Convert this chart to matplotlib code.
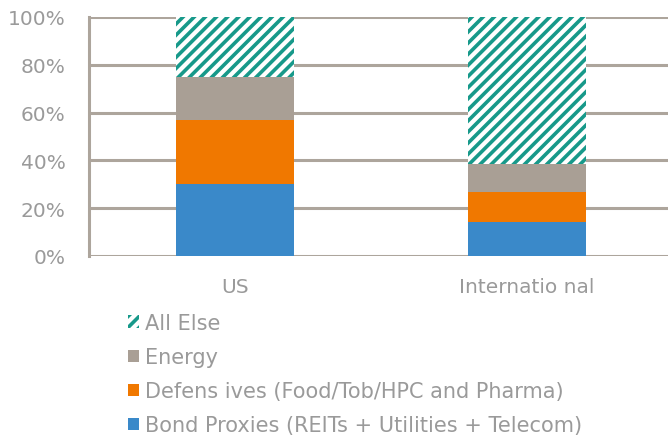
import numpy as np
import matplotlib.pyplot as plt
from matplotlib.patches import Patch

categories = ["US", "Internatio nal"]
series_names = ["Bond Proxies (REITs + Utilities + Telecom)",
                "Defens ives (Food/Tob/HPC and Pharma)",
                "Energy",
                "All Else"]
bond_proxies = [30.0, 14.4]
defensives = [27.0, 12.5]
energy = [18.0, 11.7]
all_else = [25.0, 61.4]

colors = ["#3A89C9", "#F07800", "#A99F95", "white"]
teal = "#17998A"
grid_col = "#ADA59C"
text_col = "#9A9A9A"

plt.rcParams['hatch.linewidth'] = 2.6
plt.rcParams['font.family'] = ['DejaVu Sans']

fig = plt.figure(figsize=(6.68, 4.39), dpi=100)
ax = fig.add_axes([89/668, 1-257/439, 584/668, 239/439])

x = np.arange(len(categories))
width = 0.404
bottom = np.zeros(len(categories))
for vals, name, col in zip([bond_proxies, defensives, energy, all_else], series_names, colors):
    if name == "All Else":
        ax.bar(x, vals, width, bottom=bottom, color="white", edgecolor=teal,
               hatch="///", linewidth=0, zorder=3)
    else:
        ax.bar(x, vals, width, bottom=bottom, color=col, linewidth=0, zorder=3)
    bottom += np.array(vals)

ax.set_xlim(-0.5, 1.5)
ax.set_ylim(0, 100)
ax.set_yticks(np.arange(0, 101, 20))
ax.set_yticklabels([f"{v}%" for v in range(0, 101, 20)])
ax.set_xticks(x)
ax.set_xticklabels(categories)
ax.yaxis.grid(True, color=grid_col, linewidth=2.2, zorder=0)
ax.set_axisbelow(True)
for s in ["top", "right", "bottom"]:
    ax.spines[s].set_visible(False)
ax.spines["left"].set_color(grid_col)
ax.spines["left"].set_linewidth(2.2)
ax.tick_params(length=0, labelsize=14.5, labelcolor=text_col)
ax.tick_params(axis="x", pad=15)
ax.tick_params(axis="y", pad=17)

handles = [Patch(facecolor="white", edgecolor=teal, hatch="///", linewidth=0),
           Patch(facecolor=colors[2]),
           Patch(facecolor=colors[1]),
           Patch(facecolor=colors[0])]
labels = series_names[::-1]
fig.legend(handles, labels, loc="upper left", bbox_to_anchor=(128/668, 1-314/439),
           frameon=False, fontsize=15, labelcolor=text_col, handlelength=0.55,
           handleheight=0.55, handletextpad=0.25, labelspacing=0.68, borderpad=0,
           borderaxespad=0)

fig.savefig("out.png", dpi=100)
